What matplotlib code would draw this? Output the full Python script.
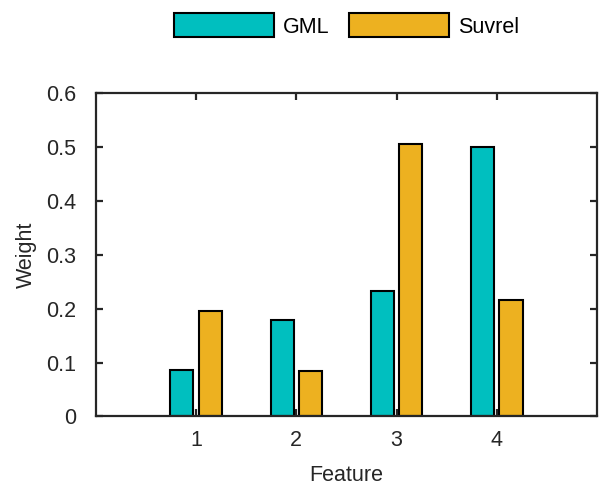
import matplotlib
matplotlib.use("Agg")
import matplotlib.pyplot as plt
import numpy as np

features = [1, 2, 3, 4]
gml = [0.086, 0.178, 0.232, 0.500]
suvrel = [0.195, 0.085, 0.504, 0.216]
series_names = ["GML", "Suvrel"]
yticks = [0, 0.1, 0.2, 0.3, 0.4, 0.5, 0.6]
ytick_labels = ["0", "0.1", "0.2", "0.3", "0.4", "0.5", "0.6"]

plt.rcParams['font.family'] = ['Liberation Sans', 'DejaVu Sans']
fs = 15.5
spine_col = '#262626'

fig = plt.figure(figsize=(5.99, 4.87), dpi=100)
ax = fig.add_axes([0.160, 0.1448, 0.8367, 0.665])

x = np.array(features, dtype=float)
off = 0.142
w = 0.23
ax.bar(x - off, gml, width=w, color='#00BFBF', edgecolor='black', linewidth=1.5,
       label=series_names[0], zorder=3)
ax.bar(x + off, suvrel, width=w, color='#EDB120', edgecolor='black', linewidth=1.5,
       label=series_names[1], zorder=3)

ax.set_xlim(0, 5)
ax.set_ylim(0, 0.6)
ax.set_xticks(features)
ax.set_xticklabels([str(f) for f in features])
ax.set_yticks(yticks)
ax.set_yticklabels(ytick_labels)

for s in ax.spines.values():
    s.set_color(spine_col)
    s.set_linewidth(1.6)
    s.set_zorder(4)

ax.tick_params(axis='both', which='both', direction='in', length=5, width=1.6,
               colors=spine_col, labelcolor='#262626', labelsize=fs,
               top=True, right=True)
ax.tick_params(axis='x', pad=10)
ax.tick_params(axis='y', pad=14)

ax.set_xlabel("Feature", fontsize=fs, color='#262626', labelpad=9.5)
ax.set_ylabel("Weight", fontsize=fs, color='#262626', labelpad=6.5)

fig.legend(loc='center', bbox_to_anchor=(346.5 / 599, 1 - 25.5 / 487), ncol=2,
           frameon=False, fontsize=fs, handlelength=4.65, handleheight=1.34,
           handletextpad=0.42, columnspacing=0.88)

fig.savefig("out.png", dpi=100)
